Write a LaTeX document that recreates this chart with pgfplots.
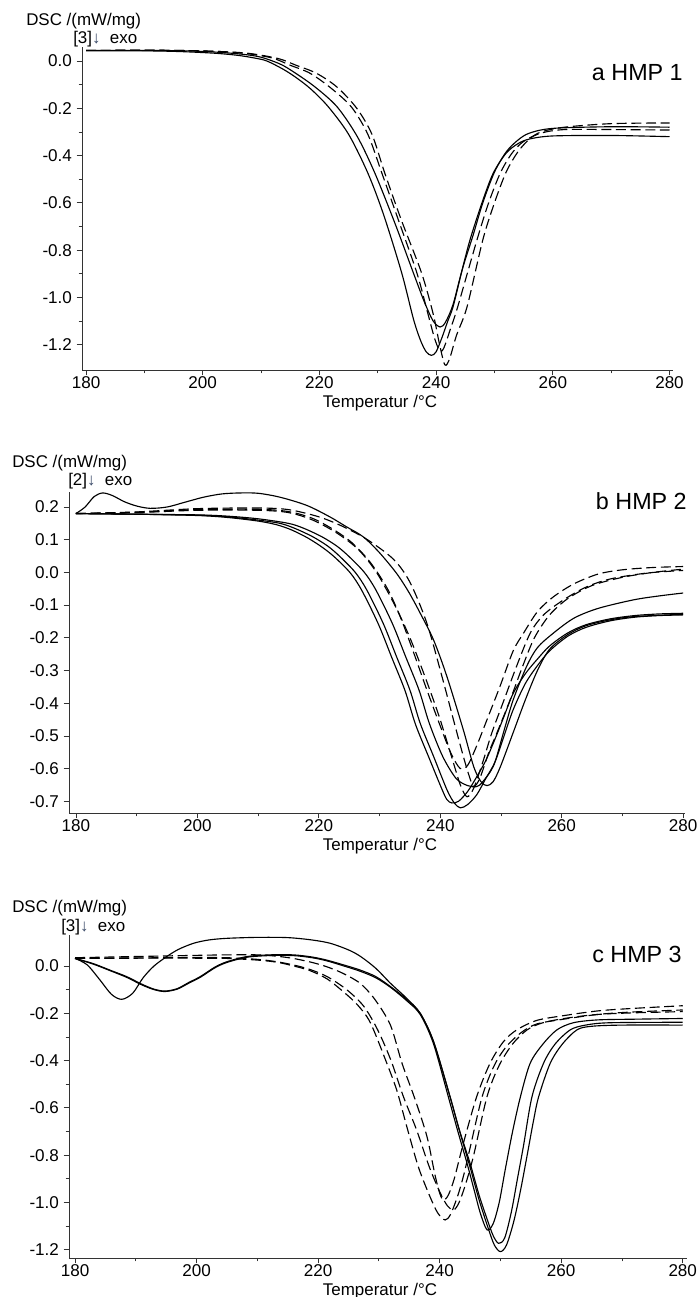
\documentclass[border=0pt]{standalone}
\usepackage{pgfplots}
\pgfplotsset{compat=1.18}
\usepackage{fontspec}
\setmainfont{Liberation Sans}
\definecolor{arrowc}{HTML}{3A4A68}
\pgfplotsset{
  dscaxis/.style={
    scale only axis,
    anchor=south west,
    axis x line*=bottom, axis y line*=left,
    axis line style={-, draw=black!80, line width=0.7pt},
    tick align=outside,
    major tick length=4pt, minor tick length=2.5pt,
    tick style={draw=black!80, line width=0.6pt},
    tick label style={font=\fontsize{12.8}{14}\selectfont, text=black},
    xticklabel style={yshift=2.5pt},
    /pgf/number format/assume math mode=true,
    xtick={180,200,220,240,260,280},
    minor x tick num=1,
  },
  sol/.style={black, line width=0.85pt, smooth, tension=0.5, no markers},
  das/.style={black, line width=0.85pt, smooth, tension=0.5, no markers, dash pattern=on 7.5pt off 3.5pt},
}
\begin{document}
\begin{tikzpicture}
\useasboundingbox (0,0) rectangle (524.25pt,-972.75pt);
% ---------------- panel a
\begin{axis}[dscaxis, at={(61.5pt,-277.5pt)}, width=443.25pt, height=242.25pt,
  xmin=179.31, xmax=280.6, ymin=-1.307, ymax=0.0592,
  ytick={-1.2,-1.0,-0.8,-0.6,-0.4,-0.2,0.0},
  yticklabels={-1.2,-1.0,-0.8,-0.6,-0.4,-0.2,0.0},
  minor y tick num=1]
\addplot[sol] coordinates {(180,0.043)(190,0.043)(196,0.04)(202,0.033)(206,0.024)(209,0.012)(211,0.0)(213.8,-0.035)(216,-0.07)(218.5,-0.118)(221.5,-0.193)(225,-0.31)(228.3,-0.474)(231,-0.65)(234.1,-0.896)(236.1,-1.09)(237.3,-1.18)(238.3,-1.23)(239.2,-1.245)(240,-1.23)(241,-1.17)(242,-1.1)(242.9,-1.04)(244.3,-0.9)(245.8,-0.757)(248,-0.59)(249.8,-0.474)(252,-0.39)(254,-0.35)(256,-0.33)(260,-0.317)(270,-0.315)(280,-0.32)};
\addplot[sol] coordinates {(180,0.045)(195,0.044)(202,0.038)(207,0.028)(210,0.016)(213,-0.01)(215,-0.037)(219,-0.105)(223,-0.193)(226.5,-0.32)(229.5,-0.474)(233,-0.69)(236.1,-0.896)(238,-1.02)(239.5,-1.1)(240.7,-1.125)(241.6,-1.105)(242.9,-1.03)(244.5,-0.88)(246.3,-0.74)(248,-0.6)(250,-0.47)(252,-0.385)(254,-0.335)(256,-0.305)(260,-0.285)(270,-0.278)(280,-0.28)};
\addplot[das] coordinates {(180,0.045)(195,0.045)(203,0.04)(208,0.032)(213,0.01)(216,-0.018)(219.5,-0.052)(223,-0.11)(226.4,-0.2)(229,-0.31)(231.2,-0.474)(234,-0.67)(237.5,-0.896)(239.5,-1.07)(240.6,-1.2)(241.5,-1.285)(242.3,-1.26)(243.5,-1.16)(245.3,-1.04)(248,-0.757)(250,-0.6)(252,-0.47)(254,-0.385)(256,-0.33)(258,-0.3)(262,-0.28)(270,-0.265)(280,-0.262)};
\addplot[das] coordinates {(180,0.045)(195,0.045)(203,0.04)(208,0.03)(212,0.012)(215,-0.018)(218.4,-0.052)(222,-0.115)(225.5,-0.195)(228.3,-0.31)(230.7,-0.474)(233.5,-0.67)(236.7,-0.896)(238.5,-1.06)(239.7,-1.17)(240.6,-1.225)(241.3,-1.215)(242.5,-1.13)(243.7,-1.04)(247,-0.757)(249,-0.6)(251,-0.474)(253,-0.39)(255,-0.34)(258,-0.305)(262,-0.29)(270,-0.29)(280,-0.292)};
\end{axis}
% ---------------- panel b
\begin{axis}[dscaxis, at={(51.75pt,-609.75pt)}, width=462pt, height=240.75pt,
  xmin=178.85, xmax=280.3, ymin=-0.7358, ymax=0.2459,
  ytick={-0.7,-0.6,-0.5,-0.4,-0.3,-0.2,-0.1,0.0,0.1,0.2},
  yticklabels={-0.7,-0.6,-0.5,-0.4,-0.3,-0.2,-0.1,0.0,0.1,0.2}]
\addplot[sol] coordinates {(180,0.18)(181.5,0.2)(183,0.232)(184.4,0.243)(186,0.235)(188,0.216)(190,0.203)(192.2,0.196)(195,0.2)(198,0.215)(201,0.23)(204,0.24)(207,0.243)(210,0.242)(213.6,0.23)(218,0.205)(221.8,0.17)(224.5,0.14)(227.3,0.109)(230,0.06)(232.8,-0.003)(234.8,-0.06)(236.7,-0.125)(238.9,-0.207)(241.1,-0.319)(243.8,-0.482)(245.5,-0.594)(246.7,-0.64)(247.7,-0.652)(248.7,-0.64)(249.9,-0.594)(252,-0.49)(254,-0.39)(256,-0.3)(258,-0.235)(261,-0.19)(264,-0.163)(268,-0.145)(272,-0.135)(280,-0.128)};
\addplot[sol] coordinates {(180,0.18)(190,0.178)(200,0.175)(205,0.17)(210,0.16)(213.6,0.15)(216,0.135)(219,0.109)(221.5,0.08)(223.5,0.048)(226,0.0)(227.9,-0.054)(230.6,-0.156)(232.8,-0.258)(235,-0.36)(236.7,-0.462)(238.9,-0.563)(241.1,-0.665)(242.3,-0.705)(243.3,-0.72)(244.5,-0.71)(246,-0.68)(247.5,-0.63)(249,-0.58)(250.5,-0.5)(252,-0.42)(254,-0.34)(256,-0.285)(258,-0.24)(261,-0.195)(264,-0.168)(268,-0.148)(272,-0.137)(276,-0.132)(280,-0.13)};
\addplot[sol] coordinates {(180,0.18)(190,0.178)(200,0.174)(205,0.168)(210,0.157)(213,0.146)(215.5,0.13)(218.2,0.105)(220.7,0.075)(222.7,0.045)(225.2,-0.002)(227.1,-0.056)(229.8,-0.158)(232,-0.26)(234.2,-0.362)(235.9,-0.464)(238.1,-0.565)(240.2,-0.66)(241.1,-0.695)(241.9,-0.705)(243,-0.7)(244.5,-0.67)(246,-0.625)(247.5,-0.575)(249,-0.51)(250.5,-0.44)(252,-0.37)(254,-0.31)(256,-0.265)(258,-0.225)(261,-0.185)(264,-0.16)(268,-0.142)(272,-0.132)(276,-0.127)(280,-0.125)};
\addplot[sol] coordinates {(180,0.18)(190,0.178)(200,0.176)(205,0.172)(210,0.164)(215,0.15)(217.5,0.135)(220.5,0.109)(223,0.08)(225,0.048)(227.5,0.0)(229.4,-0.054)(232.1,-0.156)(234.3,-0.258)(236.5,-0.36)(238.2,-0.462)(240.4,-0.563)(242.6,-0.63)(244.5,-0.652)(246,-0.655)(247,-0.64)(248.8,-0.59)(250.4,-0.49)(252,-0.39)(254.2,-0.288)(256,-0.23)(258.6,-0.186)(262,-0.14)(266,-0.11)(271.8,-0.084)(276,-0.072)(280,-0.063)};
\addplot[das] coordinates {(180,0.18)(190,0.184)(200,0.192)(210,0.193)(215,0.186)(219,0.165)(222.5,0.13)(225.5,0.09)(228.5,0.03)(231.3,-0.05)(233.5,-0.14)(235.7,-0.25)(237.8,-0.36)(240,-0.47)(241.8,-0.555)(243.3,-0.6)(244.5,-0.59)(246,-0.53)(247.7,-0.45)(249.8,-0.35)(252,-0.24)(253.7,-0.186)(256,-0.12)(258.6,-0.075)(262,-0.035)(266,-0.005)(270,0.008)(275,0.015)(280,0.018)};
\addplot[das] coordinates {(180,0.18)(190,0.183)(200,0.19)(210,0.19)(215,0.183)(219,0.16)(223,0.12)(226.5,0.07)(229.5,0.0)(232.5,-0.1)(235,-0.2)(237.5,-0.32)(239.8,-0.44)(241.8,-0.56)(243.3,-0.65)(244.4,-0.686)(245.5,-0.66)(247,-0.58)(248.5,-0.49)(250.5,-0.39)(252.5,-0.29)(254.8,-0.186)(257,-0.13)(260.3,-0.084)(264,-0.045)(268,-0.02)(274,-0.002)(280,0.006)};
\addplot[das] coordinates {(180,0.18)(190,0.185)(200,0.195)(210,0.197)(215,0.192)(220,0.17)(224,0.14)(228,0.1)(232.3,0.04)(235,-0.03)(237.8,-0.156)(240.3,-0.32)(242.3,-0.46)(243.8,-0.563)(244.8,-0.625)(245.5,-0.655)(246.5,-0.63)(248,-0.55)(249.3,-0.492)(251.5,-0.39)(253.5,-0.29)(255.5,-0.2)(258,-0.13)(261,-0.08)(265,-0.04)(270,-0.015)(275,0.0)(280,0.01)};
\end{axis}
% ---------------- panel c
\begin{axis}[dscaxis, at={(51.75pt,-943.5pt)}, width=463.5pt, height=242.25pt,
  xmin=179.01, xmax=280.7, ymin=-1.235, ymax=0.131,
  ytick={-1.2,-1.0,-0.8,-0.6,-0.4,-0.2,0.0},
  yticklabels={-1.2,-1.0,-0.8,-0.6,-0.4,-0.2,0.0},
  minor y tick num=1]
\addplot[sol] coordinates {(180,0.032)(182,0.005)(184.1,-0.059)(186,-0.12)(187.7,-0.141)(189.5,-0.115)(191.2,-0.05)(193,0.0)(195.1,0.04)(197,0.07)(199.5,0.096)(202,0.11)(205,0.117)(210,0.121)(215,0.12)(219,0.11)(222,0.096)(225,0.068)(227,0.04)(229.5,-0.01)(231.9,-0.073)(234.5,-0.135)(236.8,-0.2)(239,-0.32)(241.7,-0.552)(243.3,-0.7)(245,-0.85)(246.5,-0.99)(248,-1.11)(249,-1.18)(250,-1.208)(251,-1.18)(252.2,-1.08)(253.3,-0.95)(254.4,-0.8)(255.4,-0.66)(256.3,-0.552)(258.2,-0.411)(260.2,-0.33)(262.6,-0.27)(265,-0.255)(270,-0.25)(280,-0.25)};
\addplot[sol] coordinates {(180,0.032)(183,0.01)(186,-0.02)(188.5,-0.045)(191,-0.077)(193,-0.098)(194.8,-0.106)(196.8,-0.096)(198.7,-0.07)(200.6,-0.045)(203,-0.005)(205,0.018)(208.3,0.04)(212,0.047)(215.9,0.047)(219,0.038)(221.4,0.025)(224,0.006)(226.9,-0.017)(229.5,-0.045)(231.9,-0.087)(234.5,-0.14)(236.8,-0.2)(239,-0.32)(241.7,-0.552)(243.2,-0.69)(245,-0.834)(246.5,-0.97)(247.8,-1.07)(248.8,-1.14)(249.7,-1.173)(250.7,-1.15)(251.8,-1.04)(252.8,-0.9)(253.8,-0.76)(255.2,-0.552)(257.1,-0.411)(259,-0.33)(261.5,-0.27)(264,-0.25)(268,-0.24)(280,-0.238)};
\addplot[sol] coordinates {(180,0.032)(183,0.008)(186,-0.022)(188.5,-0.048)(191,-0.08)(193,-0.1)(194.8,-0.108)(196.8,-0.098)(198.7,-0.073)(200.6,-0.048)(203,-0.008)(205,0.015)(208.3,0.037)(212,0.044)(215.9,0.044)(219,0.035)(221.4,0.022)(224,0.002)(226.9,-0.022)(229.5,-0.05)(231.9,-0.09)(234.5,-0.145)(236.8,-0.205)(239,-0.33)(241.5,-0.56)(243,-0.7)(244.5,-0.834)(245.7,-0.95)(246.7,-1.046)(247.8,-1.116)(248.8,-1.09)(249.8,-1.0)(250.8,-0.86)(252,-0.7)(253.3,-0.552)(254.9,-0.411)(257,-0.33)(259.3,-0.27)(262,-0.24)(266,-0.228)(272,-0.225)(280,-0.222)};
\addplot[das] coordinates {(180,0.035)(190,0.04)(200,0.045)(205,0.047)(210.4,0.047)(213,0.042)(215.9,0.032)(219,0.015)(221.4,-0.003)(224,-0.03)(226.9,-0.073)(229.3,-0.14)(231.9,-0.25)(233.8,-0.411)(235.9,-0.56)(237.9,-0.72)(239.2,-0.88)(240,-0.96)(240.6,-0.99)(241.4,-0.97)(242.4,-0.9)(243.9,-0.75)(246.1,-0.552)(248.3,-0.411)(250.5,-0.32)(252.7,-0.27)(256,-0.23)(260.4,-0.21)(266,-0.19)(271.4,-0.18)(280,-0.168)};
\addplot[das] coordinates {(180,0.032)(190,0.033)(200,0.033)(205,0.032)(210,0.025)(213.2,0.016)(216,0.0)(218.7,-0.02)(221.5,-0.055)(224.2,-0.11)(226.5,-0.165)(228.6,-0.24)(231.3,-0.411)(233,-0.53)(234.6,-0.68)(236.5,-0.85)(238.4,-0.975)(239.7,-1.045)(240.9,-1.074)(241.8,-1.05)(243,-0.97)(244,-0.88)(245,-0.77)(247,-0.552)(249,-0.42)(251,-0.34)(253.5,-0.28)(256,-0.245)(260.4,-0.225)(266,-0.205)(271.4,-0.195)(280,-0.186)};
\addplot[das] coordinates {(180,0.032)(190,0.034)(200,0.036)(205,0.035)(210,0.028)(213.2,0.018)(216,0.004)(218.7,-0.015)(221.5,-0.045)(224.7,-0.1)(227.5,-0.17)(229.8,-0.27)(232,-0.4)(234,-0.55)(236.2,-0.693)(238.3,-0.85)(240.1,-0.96)(241.3,-1.015)(242.3,-1.032)(243.2,-1.0)(244.3,-0.92)(245.6,-0.8)(247.8,-0.552)(249.8,-0.42)(252,-0.33)(254.4,-0.27)(257,-0.24)(261,-0.22)(266,-0.205)(272,-0.198)(280,-0.193)};
\end{axis}
% ---------------- labels
\tikzset{lab/.style={font=\fontsize{12.7}{14}\selectfont, inner sep=0pt}, ttl/.style={font=\fontsize{17.5}{20}\selectfont, inner sep=0pt}}
% panel a
\node[lab, anchor=base west] at (19.5pt,-18.75pt) {DSC /(mW/mg)};
\node[lab, anchor=base west] at (54.75pt,-32.25pt) {[3]{\color{arrowc}↓}\hspace{0.55em}exo};
\node[ttl, anchor=base east] at (512.25pt,-60pt) {a HMP 1};
\node[lab, anchor=base] at (285pt,-305.25pt) {Temperatur /°C};
% panel b
\node[lab, anchor=base west] at (9pt,-350.25pt) {DSC /(mW/mg)};
\node[lab, anchor=base west] at (51pt,-363.75pt) {[2]{\color{arrowc}↓}\hspace{0.55em}exo};
\node[ttl, anchor=base east] at (515.25pt,-381.75pt) {b HMP 2};
\node[lab, anchor=base] at (285pt,-637.5pt) {Temperatur /°C};
% panel c
\node[lab, anchor=base west] at (9pt,-684pt) {DSC /(mW/mg)};
\node[lab, anchor=base west] at (45.75pt,-698.25pt) {[3]{\color{arrowc}↓}\hspace{0.55em}exo};
\node[ttl, anchor=base east] at (511.5pt,-721.5pt) {c HMP 3};
\node[lab, anchor=base] at (285pt,-971.25pt) {Temperatur /°C};
\end{tikzpicture}
\end{document}
